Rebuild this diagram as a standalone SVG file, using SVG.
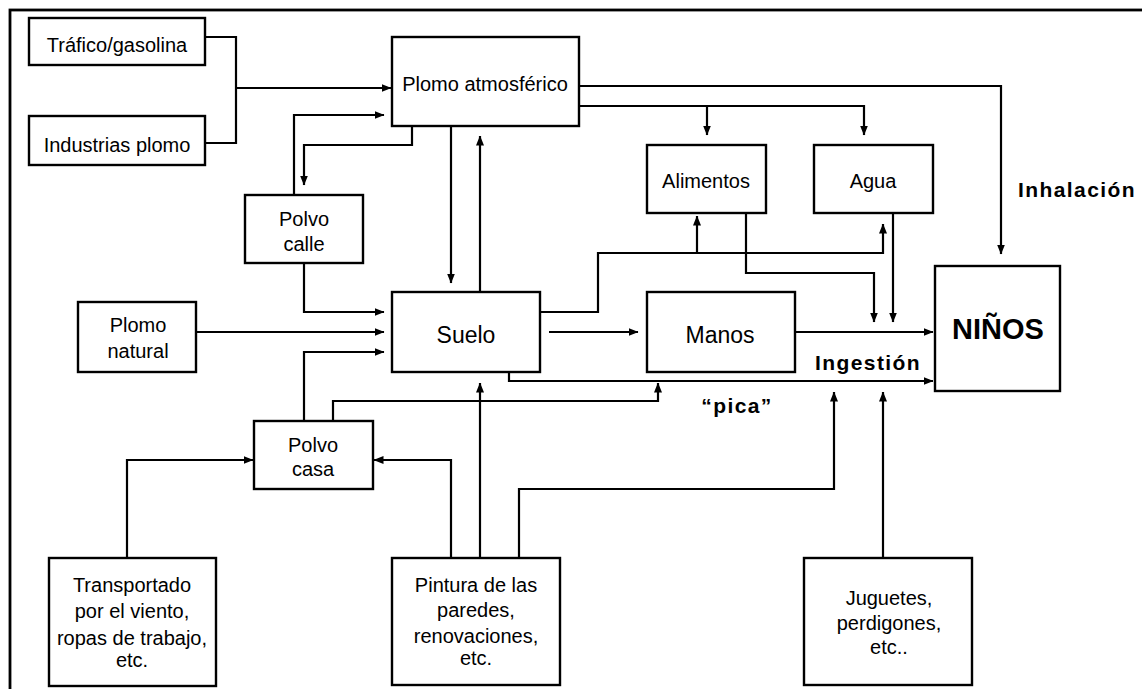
<svg xmlns="http://www.w3.org/2000/svg" width="1142" height="689" viewBox="0 0 1142 689">
<defs>
<marker id="ah" markerWidth="10" markerHeight="8" refX="9.5" refY="4" orient="auto" markerUnits="userSpaceOnUse"><path d="M0,0 L10,4 L0,8 z" fill="#000"/></marker>
<style>
.box{fill:#fff;stroke:#000;stroke-width:2.4}
.t{font-family:"Liberation Sans",Arial,sans-serif;font-size:20px;fill:#000;text-anchor:middle}
.big{font-size:23px}
.b{font-family:"Liberation Sans",Arial,sans-serif;font-weight:bold;font-size:21px;letter-spacing:1.4px;fill:#000;text-anchor:middle}
.c{fill:none;stroke:#000;stroke-width:2.2}
.a{marker-end:url(#ah)}
</style>
</defs>
<rect x="0" y="0" width="1142" height="689" fill="#fff"/>
<rect x="10" y="10" width="1140" height="690" fill="none" stroke="#000" stroke-width="2.8"/>

<g id="connectors">
<polyline class="c" points="205,37 236,37 236,143 205,143"/>
<polyline class="c a" points="236,88 391,88"/>
<polyline class="c a" points="294,195 294,115 384,115"/>
<polyline class="c a" points="412,126 412,145 304,145 304,185"/>
<polyline class="c a" points="451,126 451,283"/>
<polyline class="c a" points="480,292 480,136"/>
<polyline class="c a" points="579,86 1001,86 1001,254"/>
<polyline class="c a" points="579,106 864,106 864,135"/>
<polyline class="c a" points="707,106 707,135"/>
<polyline class="c a" points="304,263 304,312 384,312"/>
<polyline class="c a" points="196,332 384,332"/>
<polyline class="c a" points="304,421 304,352 384,352"/>
<polyline class="c a" points="540,312 598,312 598,253 883,253 883,224"/>
<polyline class="c a" points="697,253 697,216"/>
<polyline class="c a" points="549,332 638,332"/>
<polyline class="c a" points="795,332 933,332"/>
<polyline class="c a" points="746,214 746,273 874,273 874,322"/>
<polyline class="c a" points="893,214 893,322"/>
<polyline class="c a" points="509,372 509,381 933,381"/>
<polyline class="c a" points="333,421 333,401 658,401 658,383"/>
<polyline class="c a" points="127,558 127,460 253,460"/>
<polyline class="c a" points="451,558 451,460 374,460"/>
<polyline class="c a" points="480,558 480,383"/>
<polyline class="c a" points="519,558 519,489 834,489 834,392"/>
<polyline class="c a" points="883,558 883,392"/>
</g>

<g id="trafico"><rect class="box" x="29" y="18" width="176" height="47"/><text class="t" x="117" y="52">Tráfico/gasolina</text></g>
<g id="industrias"><rect class="box" x="29" y="116" width="176" height="49"/><text class="t" x="117" y="152">Industrias plomo</text></g>
<g id="plomo-atm"><rect class="box" x="392" y="37" width="187" height="89"/><text class="t" x="485" y="91">Plomo atmosférico</text></g>
<g id="alimentos"><rect class="box" x="647" y="145" width="119" height="68"/><text class="t" x="706" y="188">Alimentos</text></g>
<g id="agua"><rect class="box" x="814" y="145" width="119" height="68"/><text class="t" x="873" y="188">Agua</text></g>
<g id="polvo-calle"><rect class="box" x="245" y="195" width="118" height="68"/><text class="t" x="304" y="226">Polvo</text><text class="t" x="304" y="251">calle</text></g>
<g id="plomo-natural"><rect class="box" x="78" y="302" width="118" height="70"/><text class="t" x="138" y="332">Plomo</text><text class="t" x="138" y="358">natural</text></g>
<g id="suelo"><rect class="box" x="392" y="292" width="148" height="80"/><text class="t big" x="466" y="343">Suelo</text></g>
<g id="manos"><rect class="box" x="647" y="292" width="148" height="80"/><text class="t big" x="720" y="343">Manos</text></g>
<g id="ninos"><rect class="box" x="935" y="266" width="125" height="125"/><text class="t" x="998" y="339" style="font-weight:bold;font-size:29px">NIÑOS</text></g>
<g id="polvo-casa"><rect class="box" x="254" y="421" width="119" height="68"/><text class="t" x="313" y="452">Polvo</text><text class="t" x="313" y="476">casa</text></g>
<g id="transportado"><rect class="box" x="49" y="558" width="167" height="128"/><text class="t" x="132" y="592">Transportado</text><text class="t" x="132" y="618">por el viento,</text><text class="t" x="132" y="645">ropas de trabajo,</text><text class="t" x="132" y="667">etc.</text></g>
<g id="pintura"><rect class="box" x="392" y="558" width="168" height="127"/><text class="t" x="476" y="592">Pintura de las</text><text class="t" x="476" y="617">paredes,</text><text class="t" x="476" y="643">renovaciones,</text><text class="t" x="476" y="665">etc.</text></g>
<g id="juguetes"><rect class="box" x="804" y="558" width="168" height="127"/><text class="t" x="889" y="605">Juguetes,</text><text class="t" x="889" y="630">perdigones,</text><text class="t" x="889" y="654">etc..</text></g>

<g id="labels">
<text class="b" x="1077" y="197">Inhalación</text>
<text class="b" x="868" y="370">Ingestión</text>
<text class="b" x="737" y="413">“pica”</text>
</g>
</svg>
